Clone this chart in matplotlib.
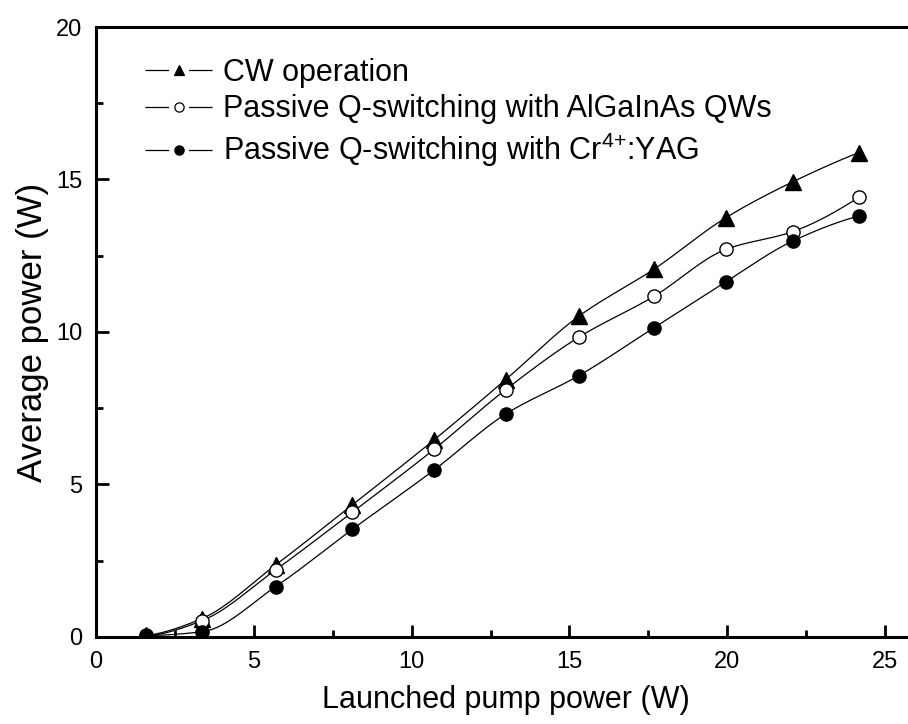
import numpy as np
import matplotlib
matplotlib.use("Agg")
import matplotlib.pyplot as plt
from matplotlib.ticker import MultipleLocator

plt.rcParams['font.family'] = ['Liberation Sans', 'DejaVu Sans']
plt.rcParams['mathtext.fontset'] = 'custom'
plt.rcParams['mathtext.rm'] = 'Liberation Sans'
plt.rcParams['mathtext.default'] = 'regular'
plt.rcParams['lines.scale_dashes'] = False

# Data
pump = [1.6, 3.35, 5.69, 8.12, 10.72, 12.98, 15.3, 17.68, 19.96, 22.07, 24.16]
cw = [0.05, 0.6, 2.36, 4.33, 6.47, 8.44, 10.52, 12.06, 13.75, 14.92, 15.88]
algainas = [0.02, 0.53, 2.2, 4.09, 6.16, 8.11, 9.83, 11.17, 12.71, 13.29, 14.41]
cryag = [0.05, 0.17, 1.65, 3.53, 5.48, 7.31, 8.57, 10.14, 11.65, 12.98, 13.8]

labels = ["CW operation",
          "Passive Q-switching with AlGaInAs QWs",
          "Passive Q-switching with Cr$^{4{+}}$:YAG"]


def pchip_curve(x, y, n=400):
    x = np.asarray(x, float)
    y = np.asarray(y, float)
    h = np.diff(x)
    d = np.diff(y) / h
    m = np.zeros_like(y)
    for k in range(1, len(x) - 1):
        if d[k - 1] * d[k] > 0:
            w1 = 2 * h[k] + h[k - 1]
            w2 = h[k] + 2 * h[k - 1]
            m[k] = (w1 + w2) / (w1 / d[k - 1] + w2 / d[k])
    def end(h0, h1, d0, d1):
        s = ((2 * h0 + h1) * d0 - h0 * d1) / (h0 + h1)
        if np.sign(s) != np.sign(d0):
            s = 0.0
        elif np.sign(d0) != np.sign(d1) and abs(s) > abs(3 * d0):
            s = 3 * d0
        return s
    m[0] = end(h[0], h[1], d[0], d[1])
    m[-1] = end(h[-1], h[-2], d[-1], d[-2])
    xs = np.linspace(x[0], x[-1], n)
    idx = np.clip(np.searchsorted(x, xs) - 1, 0, len(x) - 2)
    hh = h[idx]
    t = (xs - x[idx]) / hh
    h00 = 2 * t**3 - 3 * t**2 + 1
    h10 = t**3 - 2 * t**2 + t
    h01 = -2 * t**3 + 3 * t**2
    h11 = t**3 - t**2
    ys = h00 * y[idx] + h10 * hh * m[idx] + h01 * y[idx + 1] + h11 * hh * m[idx + 1]
    return xs, ys


fig = plt.figure(figsize=(9.08, 7.24), dpi=100)
ax = fig.add_axes([0.1057, 0.1202, 0.9038, 0.8425])

series = [(cw, '^', 'k', 11), (algainas, 'o', 'white', 9.5), (cryag, 'o', 'k', 9.5)]
handles = []
for (vals, mk, fc, ms), lab in zip(series, labels):
    xs, ys = pchip_curve(pump, vals)
    ax.plot(xs, ys, color='k', lw=0.9, zorder=2)
    ax.plot(pump, vals, linestyle='none', marker=mk, markersize=ms,
            markerfacecolor=fc, markeredgecolor='k', markeredgewidth=1.0, zorder=3)
    hl, = ax.plot([], [], color='k', lw=0.9, linestyle=(0, (17.0, 14.4)))
    hm, = ax.plot([], [], linestyle='none', marker=mk, markersize=ms * 0.7,
                  markerfacecolor=fc, markeredgecolor='k', markeredgewidth=0.9)
    handles.append((hl, hm))

ax.set_xlim(0, 26)
ax.set_ylim(0, 20)
ax.xaxis.set_major_locator(MultipleLocator(5))
ax.xaxis.set_minor_locator(MultipleLocator(2.5))
ax.yaxis.set_major_locator(MultipleLocator(5))
ax.yaxis.set_minor_locator(MultipleLocator(2.5))
ax.tick_params(which='both', direction='in', width=2.0, labelsize=17, pad=10)
ax.tick_params(which='major', length=9)
ax.tick_params(which='minor', length=5)
for sp in ax.spines.values():
    sp.set_linewidth(2.2)

ax.set_xlabel("Launched pump power (W)", fontsize=22, labelpad=9)
ax.set_ylabel("Average power (W)", fontsize=25, labelpad=5)

leg = ax.legend(handles, labels, loc='upper left', bbox_to_anchor=(0.06, 0.95),
                frameon=False, fontsize=22, handlelength=2.2, handletextpad=0.35,
                labelspacing=0.22, borderpad=0, borderaxespad=0)

fig.savefig("out.png", dpi=100)
